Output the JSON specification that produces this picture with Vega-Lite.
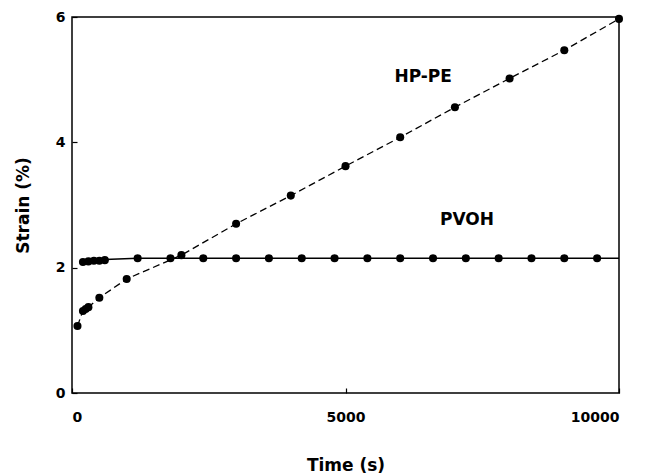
{
  "$schema": "https://vega.github.io/schema/vega-lite/v6.json",
  "width": 547,
  "height": 376,
  "autosize": "none",
  "padding": {"left": 72, "top": 17, "right": 36, "bottom": 83},
  "background": "white",
  "config": {
    "view": {"stroke": "black", "strokeWidth": 1.5},
    "axis": {
      "grid": false,
      "domain": false,
      "tickColor": "black",
      "tickWidth": 1.2,
      "tickSize": -5,
      "labelFont": "DejaVu Sans",
      "labelFontWeight": "bold",
      "labelFontSize": 14,
      "labelColor": "black",
      "titleFont": "DejaVu Sans",
      "titleFontWeight": "bold",
      "titleFontSize": 17,
      "titleColor": "black"
    }
  },
  "datasets": {
    "hppe": [
      {"time": 100, "strain": 1.07},
      {"time": 200, "strain": 1.31},
      {"time": 250, "strain": 1.34},
      {"time": 300, "strain": 1.37},
      {"time": 500, "strain": 1.52},
      {"time": 1000, "strain": 1.82},
      {"time": 2000, "strain": 2.2},
      {"time": 3000, "strain": 2.7},
      {"time": 4000, "strain": 3.15},
      {"time": 5000, "strain": 3.62},
      {"time": 6000, "strain": 4.08},
      {"time": 7000, "strain": 4.56},
      {"time": 8000, "strain": 5.02},
      {"time": 9000, "strain": 5.47},
      {"time": 10000, "strain": 5.97}
    ],
    "pvoh": [
      {"time": 200, "strain": 2.09},
      {"time": 300, "strain": 2.1},
      {"time": 400, "strain": 2.11},
      {"time": 500, "strain": 2.11},
      {"time": 600, "strain": 2.12},
      {"time": 1200, "strain": 2.15},
      {"time": 1800, "strain": 2.15},
      {"time": 2400, "strain": 2.15},
      {"time": 3000, "strain": 2.15},
      {"time": 3600, "strain": 2.15},
      {"time": 4200, "strain": 2.15},
      {"time": 4800, "strain": 2.15},
      {"time": 5400, "strain": 2.15},
      {"time": 6000, "strain": 2.15},
      {"time": 6600, "strain": 2.15},
      {"time": 7200, "strain": 2.15},
      {"time": 7800, "strain": 2.15},
      {"time": 8400, "strain": 2.15},
      {"time": 9000, "strain": 2.15},
      {"time": 9600, "strain": 2.15}
    ],
    "pvohfit": [
      {"time": 200, "strain": 2.09},
      {"time": 600, "strain": 2.13},
      {"time": 1200, "strain": 2.15},
      {"time": 10000, "strain": 2.15}
    ],
    "labels": [
      {"time": 6420, "strain": 5.04, "label": "HP-PE"},
      {"time": 7220, "strain": 2.76, "label": "PVOH"}
    ]
  },
  "encoding": {
    "x": {
      "field": "time",
      "type": "quantitative",
      "scale": {"domain": [0, 10000], "nice": false},
      "axis": {"values": [0, 5000, 10000], "format": "d", "title": "Time (s)", "labelPadding": 22, "titlePadding": 33}
    },
    "y": {
      "field": "strain",
      "type": "quantitative",
      "scale": {"domain": [0, 6], "nice": false},
      "axis": {"values": [0, 2, 4, 6], "title": "Strain (%)", "labelPadding": 12, "titlePadding": 23}
    }
  },
  "layer": [
    {
      "data": {"name": "hppe"},
      "mark": {"type": "line", "color": "black", "strokeWidth": 1.3, "strokeDash": [7, 4]}
    },
    {
      "data": {"name": "pvohfit"},
      "mark": {"type": "line", "color": "black", "strokeWidth": 1.3}
    },
    {
      "data": {"name": "hppe"},
      "mark": {"type": "circle", "color": "black", "opacity": 1, "size": 65}
    },
    {
      "data": {"name": "pvoh"},
      "mark": {"type": "circle", "color": "black", "opacity": 1, "size": 65}
    },
    {
      "data": {"name": "labels"},
      "mark": {"type": "text", "font": "DejaVu Sans", "fontWeight": "bold", "fontSize": 17, "color": "black", "align": "center", "baseline": "middle"},
      "encoding": {"text": {"field": "label"}}
    }
  ]
}
